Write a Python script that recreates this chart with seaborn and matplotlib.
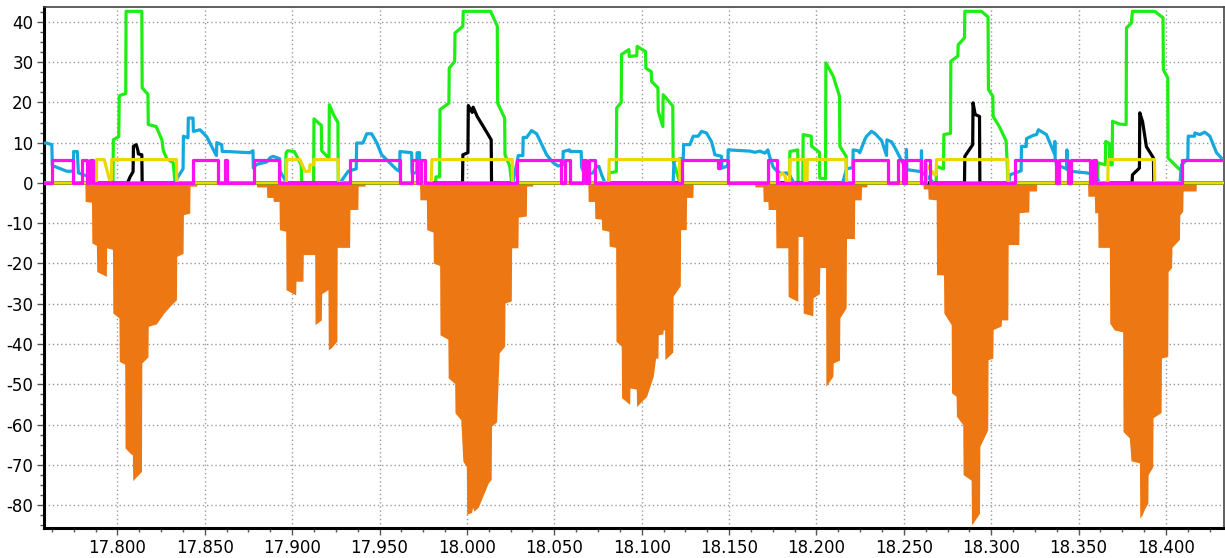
import numpy as np
import matplotlib
matplotlib.use('Agg')
import matplotlib.pyplot as plt
from matplotlib.ticker import MultipleLocator, FormatStrFormatter
import seaborn as sns

x_min, x_max = 17.7583, 18.4332
y_min, y_max = -85.6, 43.6

# green trace, one block per peak
green_x = [17.7583,
           17.7975, 17.7977, 17.8008, 17.8011, 17.8020, 17.8048, 17.8050, 17.8140, 17.8142, 17.8175, 17.8177,
           17.8222, 17.8255, 17.8263, 17.8283, 17.8320, 17.8330,
           17.8963, 17.8965, 17.8975, 17.9012, 17.9016, 17.9052, 17.9055, 17.9123, 17.9125, 17.9167, 17.9169,
           17.9207, 17.9211, 17.9213, 17.9236, 17.9258, 17.9262, 17.9264,
           17.9820, 17.9823, 17.9844, 17.9846, 17.9897, 17.9899, 17.9930, 17.9932, 17.9977, 17.9979, 18.0136,
           18.0174, 18.0176, 18.0216, 18.0218, 18.0245, 18.0256,
           18.0812, 18.0814, 18.0855, 18.0857, 18.0883, 18.0885, 18.0927, 18.0929, 18.0972, 18.0974, 18.1022,
           18.1024, 18.1055, 18.1057, 18.1093, 18.1095, 18.1121, 18.1123, 18.1178, 18.1180, 18.1219,
           18.1846, 18.1848, 18.1893, 18.1895, 18.1922, 18.1924, 18.1970, 18.1972, 18.2017, 18.2019, 18.2052,
           18.2054, 18.2096, 18.2132, 18.2134, 18.2170, 18.2172,
           18.2685, 18.2687, 18.2727, 18.2729, 18.2767, 18.2769, 18.2809, 18.2811, 18.2847, 18.2849, 18.2944,
           18.2982, 18.2984, 18.3009, 18.3011, 18.3045, 18.3085, 18.3097,
           18.3609, 18.3611, 18.3653, 18.3655, 18.3676, 18.3678, 18.3692, 18.3694, 18.3735, 18.3772, 18.3774,
           18.3802, 18.3808, 18.3936, 18.3983, 18.3985, 18.4010, 18.4012, 18.4060, 18.4087, 18.4089,
           18.4332]
green_y = [0,
           0, 10.7, 11.5, 21.5, 21.8, 22.2, 42.6, 42.6, 23.6, 22.0, 14.5,
           14.0, 10.7, 8.0, 6.0, 5.0, 0,
           0, 7.4, 8.0, 7.8, 7.5, 4.5, 0, 0, 15.9, 14.3, 8.0,
           6.3, 6.3, 19.4, 17.0, 15.3, 15.0, 0,
           0, 1.5, 1.5, 18.2, 19.8, 28.5, 30.2, 37.2, 38.9, 42.6, 42.6,
           38.9, 19.8, 16.1, 7.0, 4.2, 0,
           0, 2.5, 2.8, 18.6, 20.0, 31.9, 33.1, 31.4, 31.6, 33.9, 32.6,
           28.5, 27.6, 25.2, 23.6, 17.8, 14.0, 21.9, 19.1, 5.5, 0,
           0, 7.8, 8.2, 0, 0, 12.0, 11.6, 9.1, 7.6, 1.2, 1.0,
           29.8, 26.5, 21.5, 9.1, 6.6, 0,
           0, 4.1, 3.5, 12.0, 12.3, 30.2, 31.5, 34.3, 36.0, 42.6, 42.6,
           41.2, 23.2, 21.5, 16.5, 14.1, 10.5, 0,
           0, 5.0, 4.5, 10.3, 9.8, 4.5, 4.5, 15.3, 14.6, 14.5, 38.5,
           39.7, 42.6, 42.6, 41.0, 28.1, 26.1, 6.2, 4.1, 3.0, 0,
           0]

# black trace
black_x = [17.7583,
           17.8058, 17.8073, 17.8090, 17.8092, 17.8108, 17.8118, 17.8120, 17.8140, 17.8142,
           17.9975, 17.9977, 18.0006, 18.0008, 18.0024, 18.0030, 18.0036, 18.0059, 18.0116, 18.0139, 18.0141,
           18.2847, 18.2849, 18.2894, 18.2896, 18.2908, 18.2933, 18.2935,
           18.3806, 18.3808, 18.3848, 18.3850, 18.3866, 18.3888, 18.3928, 18.3930,
           18.4332]
black_y = [0,
           0, 1.5, 2.8, 9.1, 9.5, 8.0, 7.2, 7.0, 0,
           0, 7.0, 7.5, 19.2, 18.0, 17.5, 18.8, 16.5, 12.4, 10.7, 0,
           0, 6.6, 9.5, 19.9, 17.0, 16.5, 0,
           0, 2.0, 3.7, 17.4, 15.2, 9.0, 6.2, 0,
           0]

# cyan trace
cyan_x = [17.7583, 17.7596, 17.7625, 17.7628, 17.7711, 17.7748, 17.7750, 17.7771, 17.7777, 17.7840, 17.7860,
          17.8330, 17.8340, 17.8376, 17.8378, 17.8404, 17.8406, 17.8433, 17.8435, 17.8473, 17.8511, 17.8558,
          17.8567, 17.8569, 17.8597, 17.8600, 17.8626, 17.8759, 17.8776, 17.8778, 17.8797, 17.8855, 17.8875,
          17.8892, 17.8929, 17.8931, 17.8969,
          17.9274, 17.9321, 17.9367, 17.9369, 17.9405, 17.9427, 17.9455, 17.9484, 17.9512, 17.9598, 17.9615,
          17.9617, 17.9684, 17.9686, 17.9713, 17.9715, 17.9729, 17.9731,
          18.0263, 18.0294, 18.0320, 18.0322, 18.0342, 18.0370, 18.0399, 18.0418, 18.0456, 18.0494, 18.0522,
          18.0549, 18.0551, 18.0587, 18.0589, 18.0654, 18.0656, 18.0675, 18.0722, 18.0741, 18.0755, 18.0771,
          18.0790,
          18.1180, 18.1185, 18.1220, 18.1238, 18.1240, 18.1276, 18.1295, 18.1323, 18.1343, 18.1371, 18.1400,
          18.1419, 18.1457, 18.1459, 18.1486, 18.1493, 18.1495, 18.1619, 18.1648, 18.1676, 18.1705, 18.1722,
          18.1733, 18.1752, 18.1772, 18.1800, 18.1829, 18.1848, 18.1870,
          18.2150, 18.2172, 18.2208, 18.2210, 18.2238, 18.2248, 18.2277, 18.2287, 18.2315, 18.2334, 18.2373,
          18.2401, 18.2403, 18.2430, 18.2458, 18.2487, 18.2513, 18.2515, 18.2517, 18.2599, 18.2601, 18.2603,
          18.2630, 18.2670,
          18.3100, 18.3106, 18.3171, 18.3173, 18.3200, 18.3202, 18.3240, 18.3259, 18.3270, 18.3278, 18.3316,
          18.3335, 18.3362, 18.3364, 18.3366, 18.3374, 18.3431, 18.3433, 18.3435, 18.3450, 18.3545, 18.3593,
          18.3620,
          18.4080, 18.4089, 18.4125, 18.4127, 18.4163, 18.4165, 18.4194, 18.4222, 18.4251, 18.4289, 18.4317]
cyan_y = [9.9, 9.9, 9.5, 4.3, 2.9, 2.9, 7.8, 7.8, 2.5, 1.5, 0,
          0, 1.0, 3.5, 11.6, 11.2, 16.1, 16.1, 12.8, 13.2, 11.5, 7.5,
          6.8, 10.0, 9.5, 7.8, 7.8, 7.5, 8.0, 3.7, 4.6, 5.2, 6.3,
          6.6, 6.0, 2.9, 0,
          0, 2.9, 3.5, 9.9, 9.9, 12.2, 12.2, 10.0, 7.0, 3.3, 2.9,
          7.8, 7.5, 2.5, 2.5, 7.5, 7.5, 0,
          0, 6.8, 6.8, 11.3, 11.3, 13.0, 12.2, 10.5, 7.0, 5.0, 4.2,
          4.5, 7.8, 8.2, 7.8, 7.8, 4.0, 2.0, 2.5, 4.1, 4.1, 2.0,
          0,
          0, 5.5, 6.0, 6.0, 9.5, 9.5, 11.6, 11.6, 12.8, 12.4, 10.2,
          7.0, 6.6, 3.7, 4.1, 4.5, 8.2, 7.9, 7.6, 7.9, 7.4, 8.2,
          6.4, 4.0, 3.0, 2.3, 2.5, 1.8, 0,
          0, 3.5, 3.8, 8.2, 8.0, 7.5, 10.8, 11.6, 12.8, 12.3, 10.5,
          6.8, 10.7, 10.2, 8.0, 5.5, 3.3, 8.3, 3.3, 2.8, 8.0, 2.5,
          1.8, 0,
          0, 2.0, 3.0, 9.1, 9.0, 11.0, 11.8, 12.0, 13.2, 13.0, 12.0,
          10.0, 7.2, 10.3, 6.0, 4.5, 3.5, 8.2, 3.3, 2.9, 2.5, 2.1,
          0,
          0, 4.5, 6.0, 11.6, 11.6, 12.4, 12.0, 12.6, 11.6, 7.5, 6.2]

# magenta square wave: level holds from each x to the next
magenta_x = [17.7583, 17.7625, 17.7748, 17.7800, 17.7825, 17.7844, 17.7859, 17.8431, 17.8578, 17.8618,
             17.8626, 17.8782, 17.8927, 17.9331, 17.9617, 17.9684, 17.9713, 17.9735, 17.9760, 18.0289,
             18.0538, 18.0561, 18.0592, 18.0662, 18.0684, 18.0698, 18.0732, 18.1228, 18.1438, 18.1447,
             18.1495, 18.1724, 18.1772, 18.2210, 18.2410, 18.2467, 18.2496, 18.2515, 18.2601, 18.2620,
             18.2649, 18.3135, 18.3373, 18.3388, 18.3439, 18.3459, 18.3563, 18.3583, 18.3602, 18.4089,
             18.4332]
magenta_y = [0, 5.8, 0, 5.8, 0, 5.8, 0, 5.8, 0, 5.8,
             0, 5.8, 0, 5.8, 0, 5.8, 0, 5.8, 0, 5.8,
             0, 5.8, 0, 5.8, 0, 5.8, 0, 5.8, 3.7, 5.8,
             0, 5.8, 0, 5.8, 0, 5.8, 0, 5.8, 0, 5.8,
             0, 5.8, 0, 5.8, 0, 5.8, 0, 5.8, 0, 5.8,
             5.8]

# yellow trace
yellow_x = [17.7583, 17.7880, 17.7882, 17.7925, 17.7955, 17.7966, 17.7968, 17.8338, 17.8340,
            17.8967, 17.8969, 17.9045, 17.9074, 17.9100, 17.9102, 17.9123, 17.9125, 17.9264, 17.9266,
            17.9796, 17.9800, 18.0259, 18.0261,
            18.0812, 18.0814, 18.1217, 18.1219,
            18.1777, 18.1790, 18.1805, 18.1820, 18.1829,
            18.1846, 18.1848, 18.1932, 18.1934, 18.1946, 18.1948, 18.2170, 18.2172,
            18.2628, 18.2630, 18.2676, 18.2685, 18.2687, 18.3095, 18.3097,
            18.3667, 18.3669, 18.3934, 18.3936, 18.4332]
yellow_y = [0, 0, 5.8, 5.8, 0.8, 0.8, 5.8, 5.8, 0,
            0, 5.8, 5.8, 2.9, 2.9, 4.5, 4.5, 5.8, 5.8, 0,
            0, 5.8, 5.8, 0,
            0, 5.8, 5.8, 0,
            0, 2.0, 2.4, 1.8, 0,
            0, 5.8, 5.8, 0, 0, 5.8, 5.8, 0,
            0, 4.5, 2.0, 2.0, 5.8, 5.8, 0,
            0, 5.8, 5.8, 0, 0]

# orange filled dips below zero
orange_x = [17.7583,
            17.7814, 17.7816, 17.7852, 17.7854, 17.7880, 17.7882, 17.7937, 17.7939, 17.7972, 17.7974, 17.8009,
            17.8011, 17.8042, 17.8044, 17.8075, 17.8086, 17.8088, 17.8130, 17.8138, 17.8140, 17.8175, 17.8177,
            17.8223, 17.8263, 17.8301, 17.8338, 17.8340, 17.8376, 17.8378, 17.8414, 17.8416, 17.8454, 17.8456,
            17.8795, 17.8797, 17.8853, 17.8855, 17.8890, 17.8892, 17.8925, 17.8927, 17.8963, 17.8965, 17.9020,
            17.9022, 17.9062, 17.9064, 17.9129, 17.9131, 17.9167, 17.9169, 17.9205, 17.9207, 17.9222, 17.9256,
            17.9258, 17.9329, 17.9331, 17.9376, 17.9378, 17.9417, 17.9419,
            17.9729, 17.9731, 17.9768, 17.9770, 17.9806, 17.9808, 17.9844, 17.9846, 17.9891, 17.9893, 17.9930,
            17.9932, 17.9965, 17.9977, 17.9997, 17.9999, 18.0027, 18.0033, 18.0040, 18.0065, 18.0122, 18.0139,
            18.0141, 18.0170, 18.0185, 18.0216, 18.0218, 18.0254, 18.0256, 18.0292, 18.0294, 18.0340, 18.0342,
            18.0376, 18.0378,
            18.0692, 18.0694, 18.0730, 18.0732, 18.0769, 18.0771, 18.0812, 18.0814, 18.0851, 18.0853, 18.0883,
            18.0885, 18.0931, 18.0933, 18.0969, 18.0971, 18.1028, 18.1066, 18.1080, 18.1093, 18.1095, 18.1121,
            18.1123, 18.1131, 18.1133, 18.1178, 18.1180, 18.1221, 18.1223, 18.1255, 18.1257, 18.1293, 18.1295,
            18.1646, 18.1648, 18.1693, 18.1695, 18.1722, 18.1724, 18.1766, 18.1768, 18.1836, 18.1838, 18.1893,
            18.1895, 18.1922, 18.1924, 18.1979, 18.1981, 18.2017, 18.2019, 18.2052, 18.2054, 18.2094, 18.2096,
            18.2132, 18.2134, 18.2170, 18.2172, 18.2217, 18.2219, 18.2256, 18.2258, 18.2288, 18.2290,
            18.2609, 18.2611, 18.2637, 18.2639, 18.2685, 18.2687, 18.2727, 18.2729, 18.2771, 18.2773, 18.2799,
            18.2801, 18.2837, 18.2839, 18.2885, 18.2887, 18.2895, 18.2933, 18.2935, 18.2980, 18.2982, 18.3009,
            18.3011, 18.3057, 18.3059, 18.3095, 18.3097, 18.3158, 18.3160, 18.3215, 18.3217, 18.3259, 18.3261,
            18.3551, 18.3553, 18.3590, 18.3592, 18.3609, 18.3611, 18.3676, 18.3678, 18.3704, 18.3752, 18.3754,
            18.3790, 18.3800, 18.3848, 18.3850, 18.3862, 18.3879, 18.3896, 18.3898, 18.3924, 18.3926, 18.3972,
            18.3974, 18.4010, 18.4012, 18.4032, 18.4034, 18.4077, 18.4079, 18.4096, 18.4098, 18.4172, 18.4174,
            18.4332]
orange_y = [0,
            0, -4.6, -4.8, -14.9, -15.5, -22.0, -23.2, -16.1, -16.5, -32.3, -33.5,
            -44.3, -45.0, -65.8, -67.2, -67.5, -73.9, -72.0, -71.6, -44.7, -43.2, -35.6,
            -35.0, -32.5, -30.6, -29.0, -18.2, -17.5, -7.9, -7.5, -0.8, -0.8, 0,
            0, -1.0, -1.0, -3.6, -3.6, -4.6, -4.6, -11.6, -12.0, -26.5, -27.8,
            -24.4, -24.4, -17.8, -17.8, -35.2, -34.0, -27.5, -26.5, -41.4, -41.0, -39.3,
            -16.0, -16.0, -6.6, -6.6, -0.8, -0.8, 0,
            0, -4.2, -4.2, -11.6, -12.2, -19.9, -20.5, -37.7, -38.8, -48.4, -49.8,
            -57.1, -58.8, -69.1, -70.4, -82.3, -81.8, -80.5, -81.5, -80.5, -74.5, -73.6,
            -60.4, -59.3, -42.2, -40.5, -29.8, -29.3, -16.1, -16.1, -8.5, -8.2, -0.8,
            -0.8, 0,
            0, -4.6, -4.6, -8.8, -9.0, -11.6, -12.0, -15.7, -16.0, -39.3, -40.5,
            -53.3, -55.0, -50.9, -51.2, -55.5, -53.0, -48.0, -43.5, -43.5, -37.7, -37.5,
            -36.5, -36.5, -43.9, -42.0, -28.1, -25.5, -11.6, -11.6, -3.6, -3.6, 0,
            0, -1.0, -1.0, -4.6, -4.6, -6.6, -6.6, -16.1, -16.1, -28.2, -29.4,
            -13.3, -13.3, -32.3, -33.0, -28.5, -27.5, -21.0, -21.0, -50.5, -48.0, -44.7,
            -44.0, -33.5, -31.0, -13.8, -13.8, -4.2, -4.2, -1.0, -1.0, 0,
            0, -1.5, -1.5, -4.0, -4.2, -22.8, -22.8, -32.3, -35.2, -52.1, -53.0,
            -57.9, -60.0, -72.4, -73.8, -84.8, -84.5, -82.0, -65.4, -61.3, -43.9, -43.5,
            -36.4, -35.5, -34.0, -34.0, -15.3, -15.3, -7.4, -7.2, -2.0, -2.0, 0,
            0, -3.3, -3.3, -7.4, -7.4, -16.0, -16.0, -34.8, -36.5, -37.0, -61.7,
            -63.3, -69.0, -69.5, -83.2, -82.5, -80.8, -79.5, -72.4, -70.5, -58.3, -57.0,
            -43.5, -43.0, -22.0, -21.0, -16.0, -14.0, -8.0, -7.0, -2.0, -2.0, 0,
            0]

sns.set_style('white')
plt.rcParams['font.family'] = ['DejaVu Sans']
plt.rcParams['axes.unicode_minus'] = False

fig = plt.figure(figsize=(12.25, 5.58), dpi=100)
ax = fig.add_axes([0.0363, 0.0543, 0.9629, 0.9326])

ax.fill_between(orange_x, orange_y, 0, color='#ED7712', lw=0, zorder=2)

# square wave -> explicit step vertices
mx = np.repeat(magenta_x, 2)[1:]
my = np.repeat(magenta_y, 2)[:-1]

lw = 2.3
for xs, ys, col in [(green_x, green_y, '#1EEE14'),
                    (black_x, black_y, 'black'),
                    (cyan_x, cyan_y, '#14A8DC'),
                    (yellow_x, yellow_y, '#EAD800'),
                    (mx, my, '#FF10F0')]:
    sns.lineplot(x=xs, y=ys, color=col, lw=lw, estimator=None, sort=False, ax=ax, zorder=3)

ax.set_xlim(x_min, x_max)
ax.set_ylim(y_min, y_max)
ax.xaxis.set_major_locator(MultipleLocator(0.05))
ax.xaxis.set_minor_locator(MultipleLocator(0.0125))
ax.xaxis.set_major_formatter(FormatStrFormatter('%.3f'))
ax.yaxis.set_major_locator(MultipleLocator(10))
ax.yaxis.set_minor_locator(MultipleLocator(2.5))

ax.set_axisbelow(True)
ax.grid(True, which='major', color='#999999', linestyle=(0, (1, 2)), lw=1)

for side in ['left', 'bottom']:
    ax.spines[side].set_linewidth(2.2)
    ax.spines[side].set_color('black')
for side in ['top', 'right']:
    ax.spines[side].set_linewidth(1.2)
    ax.spines[side].set_color('#444444')

ax.tick_params(which='major', direction='out', length=5, width=1, color='#555555',
               labelsize=12, labelcolor='black', pad=3)
ax.tick_params(which='minor', direction='out', length=3, width=1, color='#555555')
ax.tick_params(axis='y', which='both', left=True, right=False)
ax.tick_params(axis='x', which='both', bottom=True, top=False)
ax.set_xlabel('')
ax.set_ylabel('')

fig.savefig('out.png', dpi=100)
